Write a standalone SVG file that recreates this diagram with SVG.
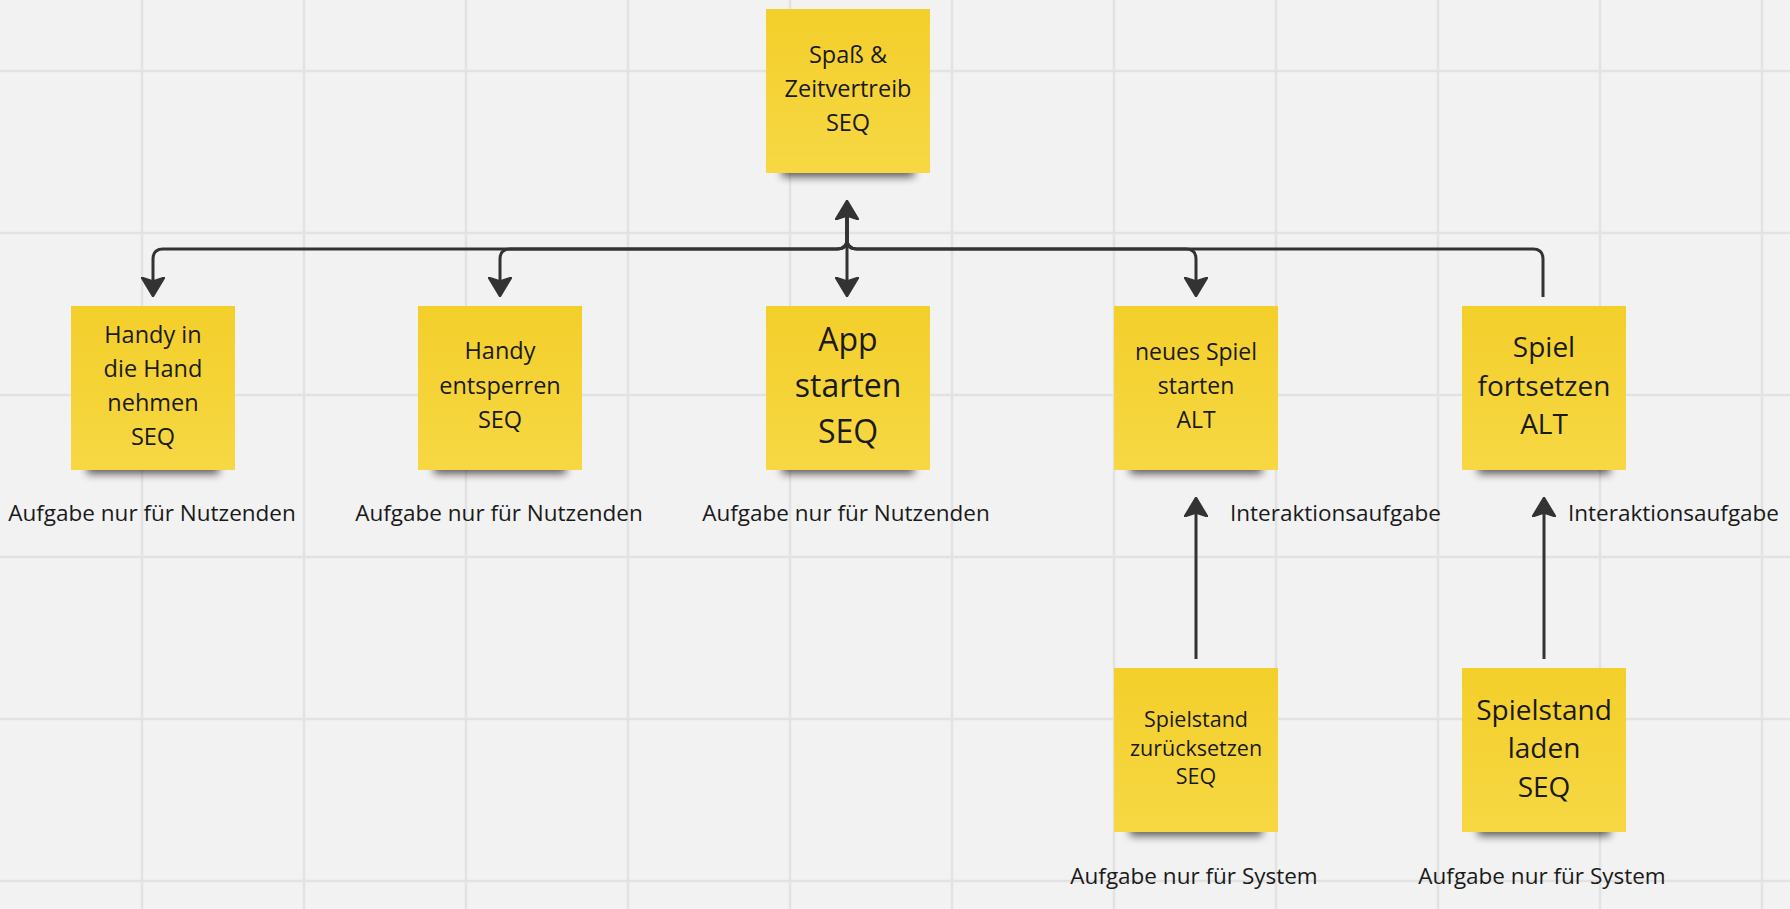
<svg xmlns="http://www.w3.org/2000/svg" width="1790" height="909" viewBox="0 0 1790 909">
<style>
  .grid line { stroke: #e2e2e2; stroke-width: 2.5; }
  .note { fill: url(#noteFill); }
  .shadow { fill: #000; opacity: 0.62; filter: url(#blur); }
  .nt { font-family: "Open Sans", "Noto Sans", "Liberation Sans", sans-serif; fill: #1a1a1a; text-anchor: middle; }
  .lbl { font-family: "Open Sans", "Noto Sans", "Liberation Sans", sans-serif; fill: #1a1a1a; font-size: 22.5px; }
  .conn path { fill: none; stroke: #333; stroke-width: 3; stroke-linejoin: round; }
</style>
<defs>
  <linearGradient id="noteFill" x1="0" y1="0" x2="0" y2="1">
    <stop offset="0" stop-color="#f3cf2a"/>
    <stop offset="1" stop-color="#f7d844"/>
  </linearGradient>
  <filter id="blur" x="-20%" y="-100%" width="140%" height="300%">
    <feGaussianBlur stdDeviation="4.5"/>
  </filter>
  <marker id="arrow" viewBox="0 0 20 24" markerUnits="userSpaceOnUse" markerWidth="20" markerHeight="24" refX="14" refY="12" orient="auto-start-reverse">
    <path d="M0,0 L20,12 L0,24 L4,12 Z" fill="#333" stroke="#333" stroke-width="1.5" stroke-linejoin="round"/>
  </marker>
</defs>
<rect x="0" y="0" width="1790" height="909" fill="#f2f2f2"/>
<g class="grid">
  <line x1="142" y1="0" x2="142" y2="909"/>
  <line x1="304" y1="0" x2="304" y2="909"/>
  <line x1="466" y1="0" x2="466" y2="909"/>
  <line x1="628" y1="0" x2="628" y2="909"/>
  <line x1="790" y1="0" x2="790" y2="909"/>
  <line x1="952" y1="0" x2="952" y2="909"/>
  <line x1="1114" y1="0" x2="1114" y2="909"/>
  <line x1="1276" y1="0" x2="1276" y2="909"/>
  <line x1="1438" y1="0" x2="1438" y2="909"/>
  <line x1="1600" y1="0" x2="1600" y2="909"/>
  <line x1="1762" y1="0" x2="1762" y2="909"/>
  <line x1="0" y1="71" x2="1790" y2="71"/>
  <line x1="0" y1="233" x2="1790" y2="233"/>
  <line x1="0" y1="395" x2="1790" y2="395"/>
  <line x1="0" y1="557" x2="1790" y2="557"/>
  <line x1="0" y1="719" x2="1790" y2="719"/>
  <line x1="0" y1="881" x2="1790" y2="881"/>
</g>

<g class="conn" id="connectors">
  <path d="M847,205 V239 Q847,249 837,249 H163 Q153,249 153,259 V291" marker-end="url(#arrow)"/>
  <path d="M847,205 V239 Q847,249 837,249 H510 Q500,249 500,259 V291" marker-end="url(#arrow)"/>
  <path d="M847,206 V291" marker-start="url(#arrow)" marker-end="url(#arrow)"/>
  <path d="M847,205 V239 Q847,249 857,249 H1186 Q1196,249 1196,259 V291" marker-end="url(#arrow)"/>
  <path d="M847,205 V239 Q847,249 857,249 H1533 Q1543,249 1543,259 V297"/>
  <path d="M1196,659 V503" marker-end="url(#arrow)"/>
  <path d="M1544,659 V503" marker-end="url(#arrow)"/>
</g>

<g id="n-spass">
  <rect class="shadow" x="782" y="163" width="132" height="14"/>
  <rect class="note" x="766" y="9" width="164" height="164"/>
  <text class="nt" font-size="23.5"><tspan x="848" y="63">Spaß &amp;</tspan><tspan x="848" y="97">Zeitvertreib</tspan><tspan x="848" y="131">SEQ</tspan></text>
</g>

<g id="n-handy-hand">
  <rect class="shadow" x="87" y="460" width="132" height="14"/>
  <rect class="note" x="71" y="306" width="164" height="164"/>
  <text class="nt" font-size="23.5"><tspan x="153" y="343">Handy in</tspan><tspan x="153" y="377">die Hand</tspan><tspan x="153" y="411">nehmen</tspan><tspan x="153" y="445">SEQ</tspan></text>
  <text class="lbl" x="152" y="521" text-anchor="middle">Aufgabe nur für Nutzenden</text>
</g>

<g id="n-entsperren">
  <rect class="shadow" x="434" y="460" width="132" height="14"/>
  <rect class="note" x="418" y="306" width="164" height="164"/>
  <text class="nt" font-size="23.5"><tspan x="500" y="359">Handy</tspan><tspan x="500" y="394">entsperren</tspan><tspan x="500" y="428">SEQ</tspan></text>
  <text class="lbl" x="499" y="521" text-anchor="middle">Aufgabe nur für Nutzenden</text>
</g>

<g id="n-app">
  <rect class="shadow" x="782" y="460" width="132" height="14"/>
  <rect class="note" x="766" y="306" width="164" height="164"/>
  <text class="nt" font-size="32"><tspan x="848" y="351">App</tspan><tspan x="848" y="397">starten</tspan><tspan x="848" y="443">SEQ</tspan></text>
  <text class="lbl" x="846" y="521" text-anchor="middle">Aufgabe nur für Nutzenden</text>
</g>

<g id="n-neues-spiel">
  <rect class="shadow" x="1130" y="460" width="132" height="14"/>
  <rect class="note" x="1114" y="306" width="164" height="164"/>
  <text class="nt" font-size="23"><tspan x="1196" y="360">neues Spiel</tspan><tspan x="1196" y="394">starten</tspan><tspan x="1196" y="428">ALT</tspan></text>
  <text class="lbl" x="1230" y="521">Interaktionsaufgabe</text>
</g>

<g id="n-fortsetzen">
  <rect class="shadow" x="1478" y="460" width="132" height="14"/>
  <rect class="note" x="1462" y="306" width="164" height="164"/>
  <text class="nt" font-size="28"><tspan x="1544" y="357">Spiel</tspan><tspan x="1544" y="396">fortsetzen</tspan><tspan x="1544" y="434">ALT</tspan></text>
  <text class="lbl" x="1568" y="521">Interaktionsaufgabe</text>
</g>

<g id="n-zuruecksetzen">
  <rect class="shadow" x="1130" y="822" width="132" height="14"/>
  <rect class="note" x="1114" y="668" width="164" height="164"/>
  <text class="nt" font-size="21.5"><tspan x="1196" y="727">Spielstand</tspan><tspan x="1196" y="756">zurücksetzen</tspan><tspan x="1196" y="784">SEQ</tspan></text>
  <text class="lbl" x="1194" y="884" text-anchor="middle">Aufgabe nur für System</text>
</g>

<g id="n-laden">
  <rect class="shadow" x="1478" y="822" width="132" height="14"/>
  <rect class="note" x="1462" y="668" width="164" height="164"/>
  <text class="nt" font-size="28"><tspan x="1544" y="720">Spielstand</tspan><tspan x="1544" y="758">laden</tspan><tspan x="1544" y="797">SEQ</tspan></text>
  <text class="lbl" x="1542" y="884" text-anchor="middle">Aufgabe nur für System</text>
</g>
</svg>
